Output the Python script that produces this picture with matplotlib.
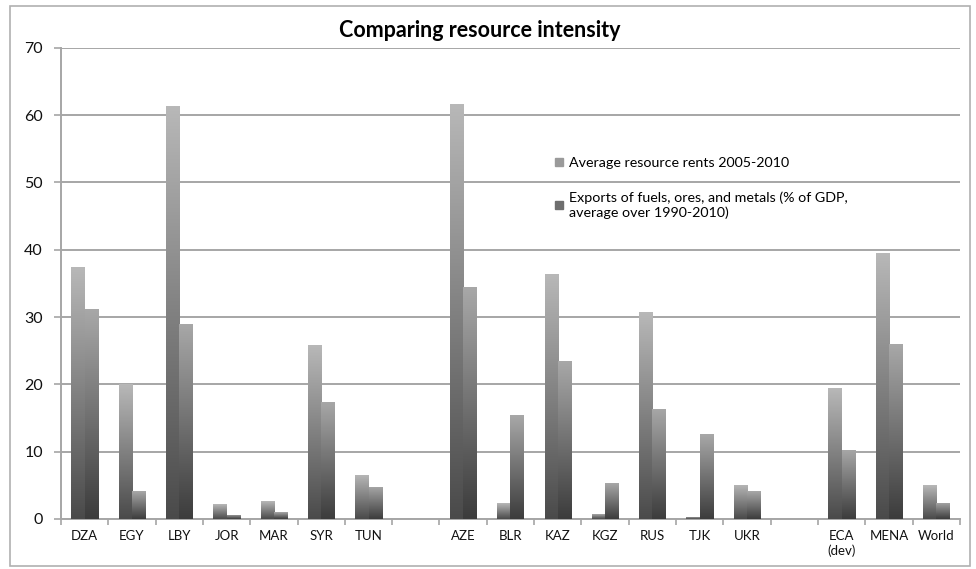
import numpy as np
import matplotlib
matplotlib.use("Agg")
import matplotlib.pyplot as plt
from matplotlib.lines import Line2D
from matplotlib.patches import Rectangle

plt.rcParams["font.family"] = ["Lato", "DejaVu Sans"]

# categories (empty strings are gaps between the groups)
labels = ["DZA", "EGY", "LBY", "JOR", "MAR", "SYR", "TUN", "",
          "AZE", "BLR", "KAZ", "KGZ", "RUS", "TJK", "UKR", "",
          "ECA\n(dev)", "MENA", "World"]
rents = [37.4, 20.0, 61.3, 2.2, 2.6, 25.8, 6.6, np.nan,
         61.6, 2.3, 36.4, 0.8, 30.7, 0.3, 5.1, np.nan,
         19.4, 39.5, 5.0]
exports = [31.2, 4.1, 29.0, 0.6, 1.0, 17.4, 4.8, np.nan,
           34.4, 15.4, 23.4, 5.3, 16.4, 12.6, 4.1, np.nan,
           10.3, 26.0, 2.4]
series_names = ["Average resource rents 2005-2010",
                "Exports of fuels, ores, and metals (% of GDP,\naverage over 1990-2010)"]

fig = plt.figure(figsize=(9.76, 5.69), dpi=100)
ax = fig.add_axes([0.0625, 0.088, 0.921, 0.828])

x = np.arange(len(labels))
w = 0.28


def gradient_bars(xs, vals, top, bottom):
    bars = ax.bar(xs, np.nan_to_num(vals), w, color="none", edgecolor="none", zorder=3)
    grad = np.linspace(0, 1, 256).reshape(-1, 1)
    c_top = np.array(matplotlib.colors.to_rgb(top))
    c_bot = np.array(matplotlib.colors.to_rgb(bottom))
    img = c_top * (1 - grad[..., None]) + c_bot * grad[..., None]
    img = img.reshape(256, 1, 3)
    for b in bars:
        h = b.get_height()
        if h <= 0:
            continue
        x0 = b.get_x()
        im = ax.imshow(img, extent=(x0, x0 + b.get_width(), 0, h), origin="upper",
                       aspect="auto", zorder=3, interpolation="bilinear")
        im.set_clip_path(b)
    return bars


gradient_bars(x - w / 2, rents, "#b8b8b8", "#4a4a4a")
gradient_bars(x + w / 2, exports, "#a8a8a8", "#3c3c3c")

ax.set_xlim(-0.5, len(labels) - 0.5)
ax.set_ylim(0, 70)
ax.set_yticks(range(0, 71, 10))
ax.yaxis.grid(True, color="#a6a6a6", linewidth=1.4)
ax.set_axisbelow(True)

ax.set_xticks(x)
ax.set_xticklabels(labels, fontsize=9.5, color="#111111")
ax.set_xticks(np.arange(-0.5, len(labels)), minor=True)
ax.tick_params(axis="x", which="major", length=0, pad=8)
ax.tick_params(axis="x", which="minor", length=4, color="#a6a6a6", width=1.2)
ax.tick_params(axis="y", length=5, color="#a6a6a6", width=1.2, labelsize=11.5,
               labelcolor="#111111", pad=8)

for s in ["top", "right"]:
    ax.spines[s].set_visible(False)
for s in ["left", "bottom"]:
    ax.spines[s].set_color("#a6a6a6")
    ax.spines[s].set_linewidth(1.4)

fig.text(0.492, 0.947, "Comparing resource intensity", fontsize=15.5, fontweight="bold",
         ha="center", va="center")

handles = [Line2D([], [], marker="s", linestyle="none", markersize=6, color="#9a9a9a"),
           Line2D([], [], marker="s", linestyle="none", markersize=6, color="#6e6e6e")]
ax.legend(handles, series_names, loc="upper left", bbox_to_anchor=(0.555, 0.747),
          bbox_transform=fig.transFigure, frameon=False, fontsize=10.3,
          handlelength=0.6, handletextpad=0.4, labelspacing=1.6)

fig.patches.append(Rectangle((0.010, 0.006), 0.984, 0.984, transform=fig.transFigure,
                             fill=False, edgecolor="#b0b0b0", linewidth=1.2))

fig.savefig("out.png", dpi=100)
